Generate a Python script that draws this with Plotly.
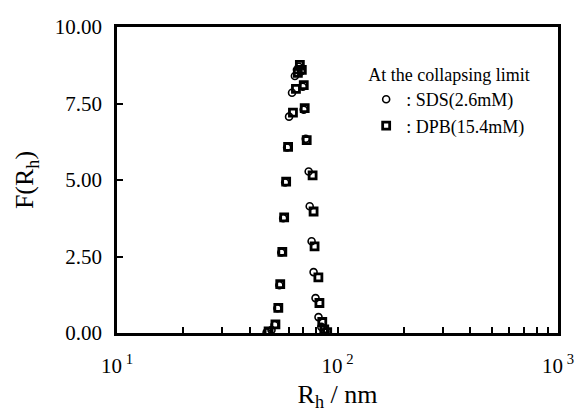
import plotly.graph_objects as go

# SDS (2.6 mM) at the collapsing limit
sds_r = [47.7, 50.2, 51.8, 53.4, 54.5, 55.6, 56.7, 57.9, 59.1, 60.3, 62.2, 64.1, 65.5,
         66.8, 68.2, 69.6, 70.3, 71.8, 74.0, 74.8, 76.3, 77.9, 79.5, 82.0, 84.5, 88.0]
sds_f = [0.02, 0.10, 0.26, 0.81, 1.56, 2.63, 3.75, 4.92, 6.06, 7.07, 7.85, 8.40, 8.60,
         8.70, 8.55, 8.05, 7.30, 6.35, 5.28, 4.14, 3.00, 1.99, 1.14, 0.52, 0.20, 0.05]

# DPB (15.4 mM) at the collapsing limit
dpb_r = [48.7, 52.3, 53.9, 55.0, 56.2, 57.3, 58.5, 59.7, 62.8, 64.8, 66.1, 67.5,
         68.9, 70.3, 71.0, 72.5, 77.1, 77.9, 78.7, 81.9, 82.8, 85.3, 87.1, 89.8]
dpb_f = [0.05, 0.28, 0.82, 1.60, 2.65, 3.78, 4.95, 6.08, 7.20, 7.98, 8.50, 8.76,
         8.60, 8.10, 7.35, 6.30, 5.15, 3.97, 2.83, 1.82, 0.98, 0.36, 0.12, 0.03]

y_ticks = [0, 2.5, 5, 7.5, 10]
x_ticks = [m * 10 ** e for e in (1, 2) for m in range(1, 10)] + [1000]
x_labels = {10: "10<sup> 1</sup>", 100: "10<sup> 2</sup>", 1000: "10<sup> 3</sup>"}
x_text = [x_labels.get(v, "") for v in x_ticks]

SERIF = "Liberation Serif"

fig = go.Figure()
fig.add_trace(go.Scatter(
    x=sds_r, y=sds_f, mode="markers", name=": SDS(2.6mM)",
    marker=dict(symbol="circle-open", size=7, color="black", line=dict(width=1.6, color="black")),
))
fig.add_trace(go.Scatter(
    x=dpb_r, y=dpb_f, mode="markers", name=": DPB(15.4mM)",
    marker=dict(symbol="square-open", size=7, color="black", line=dict(width=2.8, color="black")),
))

fig.update_layout(
    width=586, height=418,
    margin=dict(l=117, r=19, t=27, b=85),
    paper_bgcolor="white", plot_bgcolor="white",
    font=dict(family=SERIF, color="black"),
    showlegend=True,
    legend=dict(
        x=0.565, y=0.9, xanchor="left", yanchor="top",
        bgcolor="rgba(0,0,0,0)",
        title=dict(text="At the collapsing limit", font=dict(size=18, family=SERIF), side="top"),
        font=dict(size=18, family=SERIF),
        itemwidth=30, tracegroupgap=0,
    ),
    xaxis=dict(
        type="log", range=[1, 3],
        tickvals=x_ticks, ticktext=x_text,
        ticks="inside", ticklen=6, tickwidth=1.5, tickcolor="black",
        showline=True, linewidth=2.5, linecolor="black", mirror=True,
        showgrid=False, zeroline=False,
        tickfont=dict(size=21, family=SERIF),
        ticklabelstandoff=12,
        title=dict(text="R<sub>h</sub> / nm", font=dict(size=26, family=SERIF), standoff=8),
    ),
    yaxis=dict(
        range=[0, 10],
        tickvals=y_ticks, tickformat=".2f",
        ticks="inside", ticklen=6, tickwidth=1.5, tickcolor="black",
        showline=True, linewidth=2.5, linecolor="black", mirror=True,
        showgrid=False, zeroline=False,
        tickfont=dict(size=21, family=SERIF),
        ticklabelstandoff=8,
        title=dict(text="F(R<sub>h</sub>)", font=dict(size=26, family=SERIF), standoff=14),
    ),
)

fig.write_html("out.html")
